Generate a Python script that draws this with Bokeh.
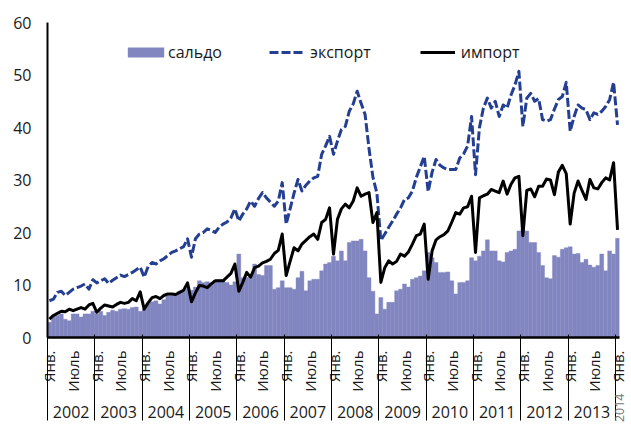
import numpy as np
from bokeh.plotting import figure
from bokeh.models import (FixedTicker, LinearAxis, Range1d, Legend, LegendItem,
                          ColumnDataSource)
from bokeh.embed import file_html
from bokeh.resources import INLINE

# ---- data (monthly Jan 2002 .. Jan 2014) ----
years = ["2002", "2003", "2004", "2005", "2006", "2007", "2008",
         "2009", "2010", "2011", "2012", "2013", "2014"]
month_names = {0: "Янв.", 6: "Июль"}

export = [
    7.0, 7.3, 8.6, 8.8, 8.0, 8.6, 9.2, 9.5, 9.8, 10.2, 9.2, 11.0,
    10.4, 10.8, 11.2, 10.3, 10.9, 11.4, 11.9, 11.6, 12.0, 12.4, 12.9, 13.4,
    11.5, 13.5, 14.3, 14.0, 14.6, 15.0, 15.6, 16.2, 16.5, 16.9, 17.3, 18.8,
    15.3, 18.8, 19.7, 20.0, 20.7, 20.4, 20.0, 21.0, 21.6, 22.0, 22.8, 24.5,
    22.2, 23.5, 24.5, 26.0, 25.0, 26.5, 27.6, 26.6, 25.8, 25.0, 26.0, 29.5,
    21.6, 24.5, 27.5, 30.1, 27.9, 29.0, 29.8, 30.4, 30.7, 34.9, 36.5, 38.3,
    34.9, 37.4, 39.6, 40.2, 43.1, 44.5, 46.9, 44.6, 42.5, 36.0, 30.5, 27.5,
    18.5, 19.7, 21.0, 22.2, 23.5, 24.7, 26.3, 26.6, 27.9, 30.5, 32.5, 34.5,
    27.8, 31.5, 33.9, 32.8, 32.3, 32.0, 32.0, 32.0, 34.2, 35.0, 36.5, 42.1,
    31.0, 40.0, 43.7, 45.6, 43.7, 45.0, 42.1, 44.3, 43.7, 46.2, 48.1, 50.7,
    40.2, 45.6, 46.5, 45.0, 45.5, 41.5, 41.2, 41.5, 43.5, 45.3, 45.9, 48.6,
    39.3, 42.1, 44.3, 43.7, 43.4, 41.5, 42.8, 42.5, 43.1, 44.0, 45.3, 48.6,
    40.5,
]

imports = [
    3.5, 4.2, 4.6, 5.0, 4.9, 5.4, 5.1, 5.4, 5.7, 5.4, 6.2, 6.5,
    4.8, 5.6, 6.2, 6.0, 5.8, 6.3, 6.7, 6.5, 6.7, 7.4, 7.0, 8.7,
    5.4, 6.6, 7.6, 7.8, 7.4, 8.0, 8.3, 8.3, 8.2, 8.6, 9.0, 10.4,
    6.8, 8.5, 9.9, 9.8, 9.5, 10.2, 10.8, 10.8, 10.8, 11.5, 12.2, 14.0,
    8.8, 10.5, 12.4, 11.5, 13.3, 13.6, 14.2, 14.5, 14.9, 16.0, 16.6, 19.7,
    11.8, 14.5, 17.1, 16.5, 17.8, 18.5, 19.2, 19.7, 18.7, 21.9, 22.5, 24.7,
    15.9, 22.5, 24.5, 25.4, 24.7, 26.0, 28.5, 26.9, 27.3, 27.6, 21.9, 23.8,
    10.5, 13.3, 14.6, 14.0, 14.5, 15.9, 15.5, 16.3, 17.8, 19.4, 19.7, 21.6,
    11.1, 16.5, 18.6, 19.2, 19.6, 20.3, 22.0, 23.8, 23.5, 24.7, 24.9, 26.9,
    16.2, 26.6, 27.0, 27.3, 28.2, 27.9, 27.6, 29.8, 27.3, 29.2, 30.4, 30.7,
    19.4, 28.0, 28.3, 26.8, 28.8, 28.8, 30.2, 30.0, 27.2, 31.5, 32.8, 31.2,
    21.6, 27.5, 29.8, 28.0, 26.3, 30.1, 28.5, 28.3, 29.5, 30.4, 30.0, 33.3,
    20.5,
]

saldo = [
    2.9, 4.2, 4.2, 4.5, 3.5, 3.2, 4.5, 4.5, 3.9, 4.5, 4.5, 5.0,
    4.5, 5.0, 4.2, 4.8, 5.2, 5.0, 5.4, 5.5, 5.4, 5.7, 5.8, 5.0,
    5.4, 6.5, 6.8, 7.0, 6.4, 7.2, 8.0, 8.0, 8.2, 8.8, 8.8, 9.3,
    9.0, 9.6, 10.8, 10.5, 10.6, 10.4, 10.9, 11.0, 11.0, 10.5, 10.0, 10.6,
    15.9, 11.4, 11.5, 11.8, 14.0, 12.0, 11.8, 13.7, 13.7, 9.2, 9.5, 10.8,
    9.5, 9.5, 9.2, 11.4, 12.6, 8.9, 10.8, 11.1, 11.1, 12.7, 14.0, 14.3,
    15.5, 14.6, 16.5, 14.6, 18.1, 18.4, 18.4, 18.7, 16.5, 11.4, 8.8, 4.5,
    7.6, 5.4, 6.7, 6.7, 8.9, 9.2, 10.2, 9.6, 11.1, 11.4, 11.7, 12.7,
    16.2, 15.2, 14.3, 12.4, 12.4, 12.5, 10.8, 8.3, 10.5, 10.5, 10.8, 15.2,
    14.6, 15.5, 16.5, 18.6, 16.5, 16.5, 14.6, 14.4, 16.2, 16.5, 16.8, 20.3,
    20.6, 20.3, 18.1, 18.1, 16.2, 13.7, 11.4, 11.2, 15.6, 15.3, 16.8, 17.1,
    17.3, 15.9, 16.0, 14.3, 14.9, 13.8, 13.4, 13.7, 15.9, 12.7, 16.5, 15.9,
    18.9,
]

y_ticks = [0, 10, 20, 30, 40, 50, 60]

# ---- styling ----
FONT = "Open Sans"
TXT = "#1a1a1a"
BAR_C = "#8286c0"
EXP_C = "#243f92"
IMP_C = "#000000"

n = len(saldo)
xc = [i + 0.5 for i in range(n)]
src = ColumnDataSource(dict(x=xc, saldo=saldo, export=export, imports=imports))

p = figure(width=631, height=429, output_backend="svg", toolbar_location=None,
           x_range=Range1d(0, n), y_range=Range1d(0, 60),
           x_axis_location=None,
           min_border_left=47, min_border_right=12, min_border_top=22, min_border_bottom=92)
p.outline_line_color = None
p.xgrid.visible = False
p.ygrid.visible = False
p.background_fill_color = "white"
p.border_fill_color = "white"

bars = p.vbar(x="x", top="saldo", width=1.0, source=src,
              fill_color=BAR_C, line_color=BAR_C, line_width=0.4)
l_exp = p.line(x="x", y="export", source=src, line_color=EXP_C, line_width=3,
               line_dash="9 3", line_join="round")
l_imp = p.line(x="x", y="imports", source=src, line_color=IMP_C, line_width=3,
               line_join="round")

# y axis
ya = p.yaxis[0]
ya.ticker = FixedTicker(ticks=y_ticks, minor_ticks=[])
ya.major_tick_line_color = None
ya.minor_tick_line_color = None
ya.major_tick_out = 0
ya.major_tick_in = 0
ya.axis_line_color = "black"
ya.axis_line_width = 2
ya.major_label_standoff = 16
ya.major_label_text_font = FONT
ya.major_label_text_font_size = "16px"
ya.major_label_text_color = TXT

# month axis
month_ticks = [i + 0.5 for i in range(n) if (i % 12) in month_names]
month_over = {i + 0.5: month_names[i % 12] for i in range(n) if (i % 12) in month_names}
ax1 = LinearAxis(ticker=FixedTicker(ticks=month_ticks, minor_ticks=[]),
                 major_label_overrides=month_over,
                 major_label_orientation=np.pi / 2,
                 major_tick_line_color=None, major_tick_out=0, major_tick_in=0,
                 minor_tick_line_color=None,
                 axis_line_color="black", axis_line_width=2.5,
                 major_label_standoff=13,
                 major_label_text_font=FONT, major_label_text_font_size="15px",
                 major_label_text_color=TXT)
p.add_layout(ax1, "below")

# year axis (full-year groups)
year_ticks = [12 * k + 6 for k in range(len(years) - 1)]
year_over = {12 * k + 6: years[k] for k in range(len(years) - 1)}
ax2 = LinearAxis(ticker=FixedTicker(ticks=year_ticks, minor_ticks=[]),
                 major_label_overrides=year_over,
                 major_tick_line_color=None, major_tick_out=0, major_tick_in=0,
                 minor_tick_line_color=None,
                 axis_line_color=None,
                 major_label_standoff=11,
                 major_label_text_font=FONT, major_label_text_font_size="16px",
                 major_label_text_color=TXT)
p.add_layout(ax2, "below")

# outermost axis: group separators (inward minor ticks) + rotated label of the
# single-month group "2014" (pulled back up with a negative standoff)
year_edges = [12 * k for k in range(len(years))]
ax3 = LinearAxis(ticker=FixedTicker(ticks=[float(n)], minor_ticks=year_edges),
                 major_label_overrides={float(n): years[-1]},
                 major_label_orientation=np.pi / 2,
                 major_tick_line_color=None, major_tick_out=0, major_tick_in=0,
                 minor_tick_line_color="black", minor_tick_line_width=1,
                 minor_tick_out=0, minor_tick_in=86,
                 axis_line_color=None,
                 major_label_standoff=-27,
                 major_label_text_font=FONT, major_label_text_font_size="12.5px",
                 major_label_text_color="#777777")
p.add_layout(ax3, "below")

# legends
leg1 = Legend(items=[LegendItem(label="сальдо", renderers=[bars])],
              orientation="horizontal", location=(76, 274),
              glyph_width=45, glyph_height=12, label_standoff=0,
              padding=0, margin=0, spacing=0, label_height=20,
              background_fill_alpha=0, border_line_color=None,
              label_text_font=FONT, label_text_font_size="16px",
              label_text_color=TXT)
leg2 = Legend(items=[LegendItem(label="экспорт", renderers=[l_exp]),
                     LegendItem(label="импорт", renderers=[l_imp])],
              orientation="horizontal", location=(222, 274),
              glyph_width=35, glyph_height=12, label_standoff=6,
              padding=0, margin=0, spacing=49, label_height=20,
              background_fill_alpha=0, border_line_color=None,
              label_text_font=FONT, label_text_font_size="16px",
              label_text_color=TXT)
p.add_layout(leg1, "center")
p.add_layout(leg2, "center")

open("out.html", "w").write(file_html(p, INLINE))
